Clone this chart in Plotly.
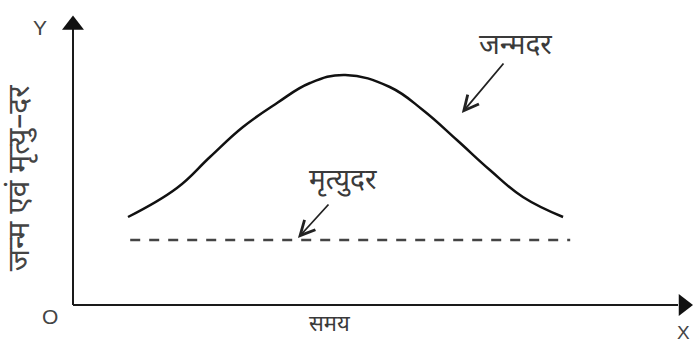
import plotly.graph_objects as go

# ---- data (time units vs rate units) ----
birth_time = [1.0, 1.89, 2.49, 3.09, 3.71, 4.31, 4.95, 5.76, 6.36, 6.98, 7.58, 8.18, 8.91]
birth_rate = [3.52, 4.68, 5.92, 7.12, 8.08, 8.88, 9.2, 8.72, 7.8, 6.6, 5.4, 4.32, 3.52]
death_time = [1.04, 9.04]
death_rate = [2.6, 2.6]

x_label = "समय"
y_label = "जन्म एवं मृत्यु–दर"
birth_label = "जन्मदर"
death_label = "मृत्युदर"

DEV = "Noto Sans Devanagari, Lohit Devanagari, Noto Sans, sans-serif"

fig = go.Figure()

# axes lines
fig.add_trace(go.Scatter(x=[0, 0], y=[0, 11.2], mode="lines",
                         line=dict(color="#1a1a1a", width=2), hoverinfo="skip"))
fig.add_trace(go.Scatter(x=[0, 11.0], y=[0, 0], mode="lines",
                         line=dict(color="#1a1a1a", width=2), hoverinfo="skip"))
# arrow heads
fig.add_trace(go.Scatter(x=[0], y=[11.2], mode="markers",
                         marker=dict(symbol="triangle-up", size=19, color="#111"), hoverinfo="skip"))
fig.add_trace(go.Scatter(x=[11.1], y=[0], mode="markers",
                         marker=dict(symbol="triangle-right", size=19, color="#111"), hoverinfo="skip"))

# birth rate curve
fig.add_trace(go.Scatter(x=birth_time, y=birth_rate, mode="lines",
                         line=dict(color="#111", width=2.5, shape="spline", smoothing=1.2),
                         hoverinfo="skip"))
# death rate dashed
fig.add_trace(go.Scatter(x=death_time, y=death_rate, mode="lines",
                         line=dict(color="#444", width=2.5, dash="10px,9px"),
                         hoverinfo="skip"))

ann = []
# pointer arrows
ann.append(dict(x=7.07, y=7.68, ax=7.85, ay=9.72, xref="x", yref="y", axref="x", ayref="y",
                text="", showarrow=True, arrowhead=5, arrowsize=1.6, arrowwidth=1.8, arrowcolor="#222"))
ann.append(dict(x=4.09, y=2.68, ax=4.67, ay=4.08, xref="x", yref="y", axref="x", ayref="y",
                text="", showarrow=True, arrowhead=5, arrowsize=1.6, arrowwidth=1.8, arrowcolor="#222"))
tf = dict(family=DEV, size=28, color="#3a3a3a")
ann.append(dict(x=8.04, y=10.32, text=birth_label, showarrow=False, font=tf))
ann.append(dict(x=4.91, y=4.92, text=death_label, showarrow=False, font=tf))
ann.append(dict(x=4.67, y=-0.8, text=x_label, showarrow=False, borderpad=0,
                font=dict(family=DEV, size=22, color="#3a3a3a")))
ann.append(dict(x=-0.93, y=5.1, text=y_label, showarrow=False,
                font=dict(family=DEV, size=30, color="#444"), textangle=-90))
lf = dict(family="Liberation Sans, Arial, sans-serif", size=21, color="#444")
ann.append(dict(x=-0.42, y=-0.44, text="O", showarrow=False, font=lf))
ann.append(dict(x=-0.6, y=11.1, text="Y", showarrow=False, font=lf))
ann.append(dict(x=11.1, y=-1.08, text="X", showarrow=False,
                font=dict(family="Liberation Sans, Arial, sans-serif", size=19, color="#444")))
for a in ann:
    a.setdefault("xref", "x")
    a.setdefault("yref", "y")

fig.update_layout(
    width=693, height=343,
    margin=dict(l=0, r=0, t=0, b=0),
    paper_bgcolor="white", plot_bgcolor="white",
    showlegend=False,
    xaxis=dict(range=[-73/55, 620/55], visible=False, fixedrange=True),
    yaxis=dict(range=[-38/25, 305/25], visible=False, fixedrange=True),
    annotations=ann,
)

fig.write_html("out.html", config={"displayModeBar": False},
               post_script="document.body.style.margin='0';document.body.style.overflow='hidden';")
